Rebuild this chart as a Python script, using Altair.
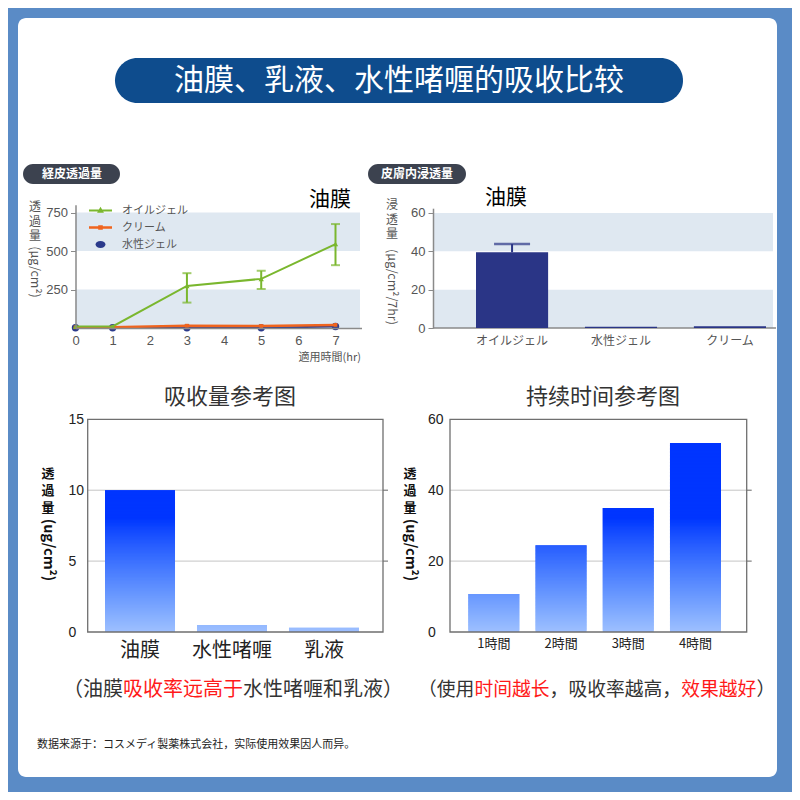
import altair as alt
import pandas as pd

CJK_SC = "Noto Sans CJK SC"
CJK_JP = "Noto Sans CJK JP"
NUM_FONT = "Liberation Sans"

GREEN = "#7ab72e"
ORANGE = "#f0641e"
NAVY = "#2b3a8c"
BAR_NAVY = "#2a3586"
BAND = "#dfe8f1"
AXIS_GRAY = "#8a8a8a"
TXT_GRAY = "#555555"
DARK = "#333333"
RED = "#ff1a1a"
BG_BLUE = "#5a8bc6"
BANNER = "#0e4c8d"
PILL = "#3c424f"

# ---------------- data ----------------
# panel A : 経皮透過量 (line chart)
hours = [0, 1, 3, 5, 7]
oil_gel = [10, 10, 273, 319, 545]
oil_gel_lo = [None, None, 165, 254, 408]
oil_gel_hi = [None, None, 356, 371, 675]
cream = [5, 5, 15, 13, 20]
water_gel = [2, 2, 2, 2, 10]
series_names = ["オイルジェル", "クリーム", "水性ジェル"]
band_lo_A = [0, 500]
band_hi_A = [250, 750]
ticks_hr = [0, 1, 2, 3, 4, 5, 6, 7]
ticks_A = [250, 500, 750]

# panel B : 皮膚内浸透量 (bar chart)
skin_cats = ["オイルジェル", "水性ジェル", "クリーム"]
skin_vals = [39.5, 0.7, 0.9]
skin_err = [43.8, None, None]
band_lo_B = [0, 40]
band_hi_B = [20, 60]
ticks_B = [0, 20, 40, 60]

# panel C : 吸收量参考图
absorb_cats = ["油膜", "水性啫喱", "乳液"]
absorb_vals = [10, 0.5, 0.3]
ticks_C = [0, 5, 10, 15]
grid_C = [5, 10]

# panel D : 持续时间参考图
dur_cats = ["1時間", "2時間", "3時間", "4時間"]
dur_vals = [10.7, 24.5, 35.0, 53.3]
ticks_D = [0, 20, 40, 60]
grid_D = [20, 40]

ONE = alt.Data(values=[{"a": 1}])


def label(s, x, y, size, color, font=CJK_SC, align="center", baseline="middle",
          angle=0, weight="normal"):
    kw = dict(text=s, fontSize=size, color=color, font=font, align=align,
              baseline=baseline, fontWeight=weight)
    if angle:
        kw["angle"] = angle
    return alt.Chart(ONE).mark_text(**kw).encode(x=alt.value(x), y=alt.value(y))


def stacked(chars, x, y0, step, size, color, weight="normal"):
    return [label(c, x, y0 + i * step, size, color, font=CJK_JP, weight=weight)
            for i, c in enumerate(chars)]


def box(x, x2, y, y2, color, r):
    return alt.Chart(ONE).mark_rect(color=color, cornerRadius=r).encode(
        x=alt.value(x), x2=alt.value(x2), y=alt.value(y), y2=alt.value(y2))


# ---------------- panel A ----------------
dfA = pd.DataFrame({"hr": hours, "oil": oil_gel, "lo": oil_gel_lo, "hi": oil_gel_hi,
                    "cream": cream, "water": water_gel})
bandsA = pd.DataFrame({"b0": band_lo_A, "b1": band_hi_A})

scXA = alt.Scale(domain=[0, 7.7], range=[67.5, 353.5], nice=False, zero=False)
axXA = alt.Axis(orient="bottom", offset=-464, values=ticks_hr, ticks=False, tickSize=0,
                labelPadding=6, domainColor=AXIS_GRAY, domainWidth=1.5, labelFontSize=13,
                labelColor=TXT_GRAY, labelFont=NUM_FONT, grid=False, title=None,
                labelFlush=False, zindex=2)
scYA = alt.Scale(domain=[0, 800], range=[320, 196.8], nice=False, zero=False)
axYA = alt.Axis(orient="left", offset=-67.5, values=ticks_A, tickSize=5, tickColor=AXIS_GRAY,
                domainColor=AXIS_GRAY, domainWidth=1.5, labelPadding=3, labelFontSize=13,
                labelColor=TXT_GRAY, labelFont=NUM_FONT, grid=False, title=None, zindex=2)


def xA():
    return alt.X("hr:Q", scale=scXA, axis=axXA)


def yA(f):
    return alt.Y(f + ":Q", scale=scYA, axis=axYA)


baseA = alt.Chart(dfA)
legend_paths = [
    "M-1,-0.08H1V0.08H-1Z M0,-0.32L0.3,0.2H-0.3Z",
    "M-1,-0.1H1V0.1H-1Z M-0.2,-0.2H0.2V0.2H-0.2Z",
    "M-0.43,0A0.43,0.3 0 1,0 0.43,0A0.43,0.3 0 1,0 -0.43,0Z",
]
legA = alt.Legend(orient="none", legendX=81, legendY=191, title=None, padding=0,
                  symbolSize=529, symbolStrokeWidth=0, labelFontSize=11,
                  labelColor=TXT_GRAY, labelFont=CJK_JP, labelOffset=10, rowPadding=-5,
                  symbolOpacity=1, zindex=2)
legend_layer = alt.Chart(pd.DataFrame({"series": series_names})).mark_point(
    filled=True, opacity=1).encode(
    color=alt.Color("series:N", scale=alt.Scale(domain=series_names,
                                                range=[GREEN, ORANGE, NAVY]), legend=legA),
    shape=alt.Shape("series:N", scale=alt.Scale(domain=series_names, range=legend_paths),
                    legend=legA),
).transform_filter("false")

panelA = alt.layer(
    alt.Chart(bandsA).mark_rect(color=BAND).encode(
        x=alt.value(67.5), x2=alt.value(352), y=yA("b0"), y2="b1"),
    baseA.mark_line(color=NAVY, strokeWidth=2).encode(x=xA(), y=yA("water")),
    baseA.mark_point(filled=True, shape="circle", size=55, color=NAVY, opacity=1).encode(
        x=xA(), y=yA("water")),
    baseA.mark_line(color=ORANGE, strokeWidth=2.5).encode(x=xA(), y=yA("cream")),
    baseA.mark_point(filled=True, shape="square", size=14, color=ORANGE, opacity=1).encode(
        x=xA(), y=yA("cream")),
    baseA.mark_line(color=GREEN, strokeWidth=2).encode(x=xA(), y=yA("oil")),
    baseA.transform_filter("isValid(datum.lo)").mark_rule(color=GREEN, strokeWidth=2).encode(
        x=xA(), y=yA("lo"), y2="hi"),
    baseA.transform_filter("isValid(datum.lo)").mark_tick(
        orient="horizontal", size=9, thickness=2, color=GREEN).encode(x=xA(), y=yA("lo")),
    baseA.transform_filter("isValid(datum.lo)").mark_tick(
        orient="horizontal", size=9, thickness=2, color=GREEN).encode(x=xA(), y=yA("hi")),
    baseA.mark_point(filled=True, shape="triangle-up", size=28, color=GREEN, opacity=1).encode(
        x=xA(), y=yA("oil")),
    legend_layer,
)

# ---------------- panel B ----------------
dfB = pd.DataFrame({"cat": skin_cats, "v": skin_vals, "e": skin_err})
bandsB = pd.DataFrame({"b0": band_lo_B, "b1": band_hi_B})
scXB = alt.Scale(domain=skin_cats, range=[468, 758], paddingInner=0.338, paddingOuter=0)
axXB = alt.Axis(orient="bottom", offset=-464, domain=False, ticks=False, tickSize=0,
                labelPadding=7, labelFontSize=12, labelColor=TXT_GRAY, labelFont=CJK_JP,
                labelAngle=0, title=None, grid=False, zindex=2)
scYB = alt.Scale(domain=[0, 62.5], range=[320, 200.2], nice=False, zero=False)
axYB = alt.Axis(orient="left", offset=-425, values=ticks_B, tickSize=5, tickColor=AXIS_GRAY,
                domainColor=AXIS_GRAY, domainWidth=1.5, labelPadding=3, labelFontSize=13,
                labelColor=TXT_GRAY, labelFont=NUM_FONT, grid=False, title=None, zindex=2)


def xB():
    return alt.X("cat:N", scale=scXB, axis=axXB)


def yB(f):
    return alt.Y(f + ":Q", scale=scYB, axis=axYB)


panelB = alt.layer(
    alt.Chart(bandsB).mark_rect(color=BAND).encode(
        x=alt.value(425), x2=alt.value(765), y=yB("b0"), y2="b1"),
    alt.Chart(pd.DataFrame({"z": [0]})).mark_rule(color=AXIS_GRAY, strokeWidth=1.5).encode(
        x=alt.value(425), x2=alt.value(768), y=yB("z")),
    alt.Chart(dfB).mark_bar(color=BAR_NAVY).encode(x=xB(), y=yB("v")),
    alt.Chart(dfB).transform_filter("isValid(datum.e)").mark_rule(
        color=BAR_NAVY, strokeWidth=2).encode(x=xB(), y=yB("v"), y2="e"),
    alt.Chart(dfB).transform_filter("isValid(datum.e)").mark_tick(
        orient="horizontal", size=36, thickness=2.5, color=BAR_NAVY).encode(x=xB(), y=yB("e")),
)


# ---------------- gradient bar panels (C, D) ----------------
def grad_panel(cats, vals, rng, pin, ydom, yrange, axis_x, lab_x, frame_x2, grid_vals,
               tick_vals, xlab_size, xlab_pad, color_top_val, step):
    df = pd.DataFrame({"cat": cats, "v": vals})
    scX = alt.Scale(domain=cats, range=rng, paddingInner=pin, paddingOuter=0)
    axX = alt.Axis(orient="bottom", offset=-(784 - yrange[0]), domain=False, ticks=False,
                   tickSize=0, labelPadding=xlab_pad, labelFontSize=xlab_size,
                   labelColor="#222222", labelFont=CJK_SC, labelAngle=0, title=None,
                   grid=False, zindex=2)
    scY = alt.Scale(domain=ydom, range=yrange, nice=False, zero=False)
    axY = alt.Axis(orient="left", offset=-axis_x, values=tick_vals, domain=False, ticks=False,
                   tickSize=0, labelAlign="left", labelPadding=axis_x - lab_x,
                   labelFontSize=14, labelColor="#222222", labelFont=NUM_FONT, grid=False,
                   title=None, zindex=2)

    def X():
        return alt.X("cat:N", scale=scX, axis=axX)

    def Y(f):
        return alt.Y(f + ":Q", scale=scY, axis=axY)

    gdf = pd.DataFrame({"g": grid_vals})
    frame = pd.DataFrame({"f0": [ydom[0]], "f1": [ydom[1]]})
    return alt.layer(
        alt.Chart(gdf).mark_rule(color="#c4c4c4", strokeWidth=1).encode(
            x=alt.value(axis_x), x2=alt.value(frame_x2), y=Y("g")),
        alt.Chart(gdf).mark_rule(color="#666666", strokeWidth=1).encode(
            x=alt.value(frame_x2), x2=alt.value(frame_x2 + 5), y=Y("g")),
        alt.Chart(df).transform_calculate(
            seg=f"sequence(0, datum.v, {step})"
        ).transform_flatten(["seg"]).transform_calculate(
            seg2=f"min(datum.seg + {2 * step}, datum.v)"
        ).mark_bar().encode(
            x=X(), y=Y("seg"), y2="seg2",
            color=alt.Color("seg:Q", scale=alt.Scale(domain=[0, color_top_val],
                                                     range=["#9dbfff", "#0035ff"],
                                                     clamp=True), legend=None)),
        alt.Chart(frame).mark_rect(filled=False, stroke="#6f6f6f", strokeWidth=1.3).encode(
            x=alt.value(axis_x), x2=alt.value(frame_x2), y=Y("f0"), y2="f1"),
    )


panelC = grad_panel(absorb_cats, absorb_vals, [97, 351], 0.239, [0, 15], [624, 411.3],
                    79.7, 60, 375, grid_C, ticks_C, 20, 8, 8, 0.1)
panelD = grad_panel(dur_cats, dur_vals, [460.3, 713], 0.241, [0, 60], [624, 411.3],
                    442, 419.5, 738.7, grid_D, ticks_D, 13, 5, 32, 0.4)

# ---------------- decorations & texts ----------------
decor = [
    box(10, 769, 10, 769, "white", 8),
    box(107, 675, 50, 95, BANNER, 22.5),
    label("油膜、乳液、水性啫喱的吸收比较", 391, 73, 30, "white"),
    box(15, 112, 156, 176, PILL, 10),
    label("経皮透過量", 64, 166, 12, "white", font=CJK_JP, weight="bold"),
    box(360, 458, 156, 176, PILL, 10),
    label("皮膚内浸透量", 409, 166, 12, "white", font=CJK_JP, weight="bold"),
]

texts = [
    label("油膜", 322, 192, 21, "black"),
    label("油膜", 498, 190, 21, "black"),
    # y titles (vertical writing)
    *stacked("透過量", 27, 199, 14.5, 12, TXT_GRAY),
    label("(μg/cm²)", 27, 264, 12.5, TXT_GRAY, font=CJK_JP, angle=90),
    *stacked("浸透量", 384, 197, 14.5, 12, TXT_GRAY),
    label("(μg/cm²/7hr)", 384, 279, 12.5, TXT_GRAY, font=CJK_JP, angle=90),
    label("適用時間(hr)", 353, 350, 11, TXT_GRAY, font=CJK_JP, align="right"),
    *stacked("透過量", 40, 466, 17, 13, "#111111", weight="bold"),
    label("(ug/cm²)", 40, 542, 14.5, "#111111", font=CJK_JP, angle=90, weight="bold"),
    *stacked("透過量", 402, 466, 17, 13, "#111111", weight="bold"),
    label("(ug/cm²)", 402, 542, 14.5, "#111111", font=CJK_JP, angle=90, weight="bold"),
    # panel titles
    label("吸收量参考图", 222, 389, 22, DARK),
    label("持续时间参考图", 595, 389, 22, DARK),
    # subtitles with red highlights
    label("（油膜", 55, 682, 20, DARK, align="left"),
    label("吸收率远高于", 115, 682, 20, RED, align="left"),
    label("水性啫喱和乳液）", 235, 682, 20, DARK, align="left"),
    label("（使用", 410, 682, 18.8, DARK, align="left"),
    label("时间越长", 466.4, 682, 18.8, RED, align="left"),
    label("，吸收率越高，", 541.6, 682, 18.8, DARK, align="left"),
    label("效果越好", 673.2, 682, 18.8, RED, align="left"),
    label("）", 748.4, 682, 18.8, DARK, align="left"),
    label("数据来源于：コスメディ製薬株式会社，实际使用效果因人而异。", 29, 737, 11,
          "#222222", align="left"),
]

chart = alt.layer(
    *decor, panelA, panelB, panelC, panelD, *texts
).resolve_scale(
    x="independent", y="independent", color="independent", shape="independent"
).resolve_axis(
    x="independent", y="independent"
).resolve_legend(
    color="independent", shape="independent"
).properties(
    width=784, height=784, padding=0,
    autosize=alt.AutoSizeParams(type="none"),
    background=BG_BLUE,
).configure_view(stroke=None)

chart.save("out.html", embed_options={"renderer": "svg", "actions": False})
